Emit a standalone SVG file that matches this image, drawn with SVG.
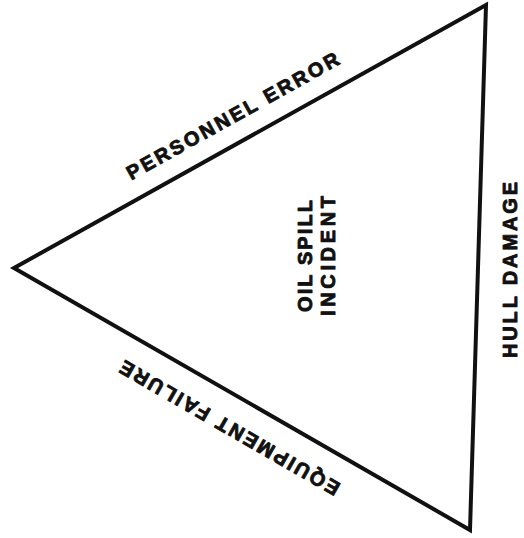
<svg xmlns="http://www.w3.org/2000/svg" width="524" height="538" viewBox="0 0 524 538">
<style>
.lbl{font-family:"Liberation Sans",Arial,sans-serif;font-weight:bold;font-size:20px;fill:#111;stroke:#111;stroke-width:0.9;stroke-linejoin:round;text-anchor:middle}
.edge{fill:none;stroke:#111;stroke-width:4;stroke-linejoin:miter}
</style>
<rect width="524" height="538" fill="#fff"/>
<g id="triangle">
<polygon class="edge" points="14,268 486,5 470,530"/>
</g>
<g id="personnel-error">
<text class="lbl" transform="translate(236,122) rotate(-29.13)" textLength="240" lengthAdjust="spacing">PERSONNEL ERROR</text>
</g>
<g id="equipment-failure">
<text class="lbl" transform="translate(233,422) rotate(209.88)" textLength="250" lengthAdjust="spacing">EQUIPMENT FAILURE</text>
</g>
<g id="oil-spill-incident">
<text class="lbl" transform="translate(312,256) rotate(-90)" textLength="112" lengthAdjust="spacing">OIL SPILL</text>
<text class="lbl" transform="translate(335,256) rotate(-90)" textLength="120" lengthAdjust="spacing">INCIDENT</text>
</g>
<g id="hull-damage">
<text class="lbl" transform="translate(517,270) rotate(-90)" textLength="176" lengthAdjust="spacing">HULL DAMAGE</text>
</g>
</svg>
